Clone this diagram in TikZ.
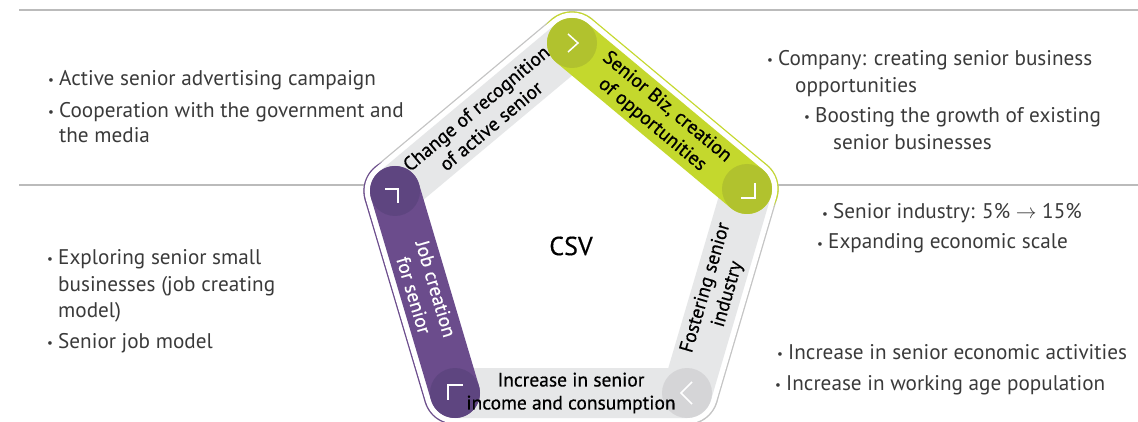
\documentclass[tikz,border=0pt]{standalone}
\usepackage{fontspec}
\setmainfont{PT Sans}
\newfontfamily\labfont{PT Sans}[FakeBold=0.5]
\usetikzlibrary{calc}
\definecolor{csvgreen}{HTML}{C4D82D}
\definecolor{csvgreendark}{HTML}{B1C22E}
\definecolor{csvpurple}{HTML}{6B4C8C}
\definecolor{csvpurpledark}{HTML}{5E4580}
\definecolor{csvgray}{HTML}{E6E7E8}
\definecolor{csvgraydark}{HTML}{D5D5D7}
\definecolor{rimgray}{HTML}{C4C4C4}
\definecolor{rulegray}{HTML}{BBBBBB}
\definecolor{textgray}{HTML}{3A3A3A}
\tikzset{
  band/.style={line width=50pt, line cap=round, line join=round},
  rim/.style={line width=63.3pt, line cap=round},
  rimgap/.style={line width=60.7pt, line cap=round, line join=round, white},
  chev/.style={white, line width=1.5pt},
  lab/.style={align=center, inner sep=0pt, text=black, font=\labfont\fontsize{19.5}{23}\selectfont},
  txt/.style={anchor=base west, inner sep=0pt, text=textgray, font=\fontsize{21.2}{26}\selectfont}
}
\newcommand{\bul}{\makebox[11pt][l]{\raisebox{1pt}{\fontsize{13}{13}\selectfont •}}}
\begin{document}
\begin{tikzpicture}[x=1pt, y=-1pt]
\useasboundingbox (0,0) rectangle (1138,422);
% rules
\draw[rulegray, line width=1.5] (19,10) -- (1138,10);
\draw[rulegray, line width=1.5] (19,185) -- (1138,185);
% corners of the pentagon
\coordinate (vt) at (572,43);
\coordinate (vr) at (747,189);
\coordinate (vbr) at (687,393);
\coordinate (vbl) at (455,393);
\coordinate (vl) at (395,191);
% outer rim
\draw[rim, rimgray] (vr) -- (vbr);
\draw[rim, rimgray] (vbr) -- (vbl);
\draw[rim, rimgray] (vl) -- (vt);
\draw[rim, csvpurple] (vbl) -- (vl);
\draw[rim, csvgreen] (vt) -- (vr);
\draw[rimgap] (vt) -- (vr) -- (vbr) -- (vbl) -- (vl) -- cycle;
\fill[white] (vt) -- (vr) -- (vbr) -- (vbl) -- (vl) -- cycle;
% bands
\draw[band, csvgray] (vl) -- (vt);
\draw[band, csvgray] (vr) -- (vbr) -- (vbl);
\draw[band, csvgreen] (vt) -- (vr);
\draw[band, csvpurple] (vbl) -- (vl);
\fill[csvgreendark] (vt) circle (25);
\fill[csvgreendark] (vr) circle (25);
\fill[csvgraydark] (vbr) circle (25);
\fill[csvpurpledark] (vbl) circle (25);
\fill[csvpurpledark] (vl) circle (25);
% chevrons
\draw[chev] ([shift={(-4,-9)}]vt) -- ([shift={(6,0)}]vt) -- ([shift={(-4,9)}]vt);
\draw[chev] ([shift={(-6,9)}]vr) -- ([shift={(8,9)}]vr) -- ([shift={(8,-6)}]vr);
\draw[chev] ([shift={(5,-11)}]vbr) -- ([shift={(-6,0)}]vbr) -- ([shift={(5,11)}]vbr);
\draw[chev] ([shift={(8,-8)}]vbl) -- ([shift={(-7,-8)}]vbl) -- ([shift={(-7,7)}]vbl);
\draw[chev] ([shift={(-10,-2)}]vl) -- ([shift={(3,-2)}]vl) -- ([shift={(3,12)}]vl);
% band labels
\path (vl) -- node[lab, sloped] (recog) {Change of recognition\\of active senior} (vt);
\path (vt) -- node[lab, sloped] (biz) {Senior Biz, creation\\of opportunities} (vr);
\path (vr) -- node[lab, sloped] (industry) {Fostering senior\\industry} (vbr);
\path (vbr) -- node[lab, sloped] (income) {Increase in senior\\income and consumption} (vbl);
\path (vbl) -- node[lab, sloped, text=white] (job) {Job creation\\for senior} (vl);
\node[font=\labfont\fontsize{26}{26}\selectfont] (csv) at (571,246) {CSV};
% left side
\node[txt] (adv) at (48,86) {\bul Active senior advertising campaign};
\node[txt] (coop) at (48,118) {\bul Cooperation with the government and};
\node[txt] (media) at (59,143) {the media};
\node[txt] (explore) at (47,265) {\bul Exploring senior small};
\node[txt] (smallbiz) at (58,291) {businesses (job creating};
\node[txt] (model) at (58,317) {model)};
\node[txt] (jobmodel) at (47,348) {\bul Senior job model};
% right side
\node[txt] (company) at (767,66) {\bul Company: creating senior business};
\node[txt] (opport) at (795,93) {opportunities};
\node[txt] (boost) at (804,123) {\bul Boosting the growth of existing};
\node[txt] (existing) at (833,150) {senior businesses};
\node[txt] (share) at (822,219) {\bul Senior industry: 5\% $\rightarrow$ 15\%};
\node[txt] (scale) at (817,249) {\bul Expanding economic scale};
\node[txt] (activity) at (777,359) {\bul Increase in senior economic activities};
\node[txt] (workforce) at (775,390) {\bul Increase in working age population};
\end{tikzpicture}
\end{document}
